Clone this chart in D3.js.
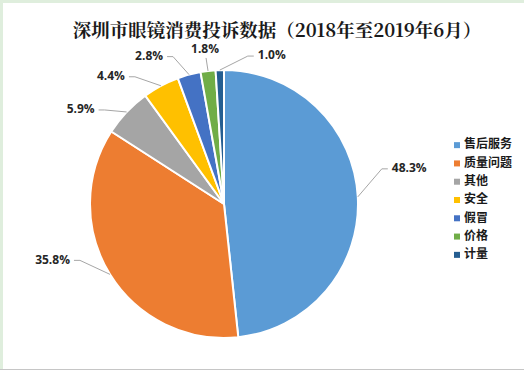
<!DOCTYPE html>
<html>
<head>
<meta charset="utf-8">
<script src="https://cdn.jsdelivr.net/npm/d3@7"></script>
<style>
	body { margin: 0; background: white; }
	svg { display: block; }
</style>
</head>
<body>
<script>
// 深圳市眼镜消费投诉数据 pie

var categories = ['售后服务', '质量问题', '其他', '安全', '假冒', '价格', '计量']
var values = [48.3, 35.8, 5.9, 4.4, 2.8, 1.8, 1.0]
var labels = ['48.3%', '35.8%', '5.9%', '4.4%', '2.8%', '1.8%', '1.0%']

var colors = ['#5B9BD5', '#ED7D31', '#A5A5A5', '#FFC000', '#4472C4', '#70AD47', '#255E91']

// where each label sits relative to its rim point (dx, dy, anchor)
var labelOffsets = [
	[34, -28, 'start'],
	[-40, -14, 'end'],
	[-32, -2, 'end'],
	[-36, -9, 'end'],
	[-26, -18, 'end'],
	[-3, -21, 'middle'],
	[38, -14, 'start']
]

var width = 524,
	height = 372

var svg = d3.select('body').append('svg')
	.attr('width', width)
	.attr('height', height)

// frame
svg.append('rect')
	.attr('width', width)
	.attr('height', height)
	.attr('fill', 'white')
svg.append('rect')
	.attr('x', 0).attr('y', 0)
	.attr('width', width).attr('height', 3)
	.attr('fill', '#dfeedd')
svg.append('rect')
	.attr('x', 0).attr('y', 0)
	.attr('width', 3).attr('height', 370)
	.attr('fill', '#dfeedd')
svg.append('line')
	.attr('x1', 0).attr('x2', width)
	.attr('y1', 369.5).attr('y2', 369.5)
	.attr('stroke', '#c6c6c6')

svg.append('text')
	.attr('x', 277)
	.attr('y', 32)
	.attr('text-anchor', 'middle')
	.attr('dominant-baseline', 'middle')
	.style('font-family', '"Noto Serif CJK SC", "Noto Sans CJK SC", sans-serif')
	.style('font-weight', 'bold')
	.style('font-size', '18.5px')
	.attr('fill', '#1a1a1a')
	.text('深圳市眼镜消费投诉数据（2018年至2019年6月）')

var cx = 224, cy = 204, r = 134

var color = d3.scaleOrdinal()
	.domain(categories)
	.range(colors)

var pie = d3.pie()
	.sort(null)
	.value(d => d.value)

var data = categories.map((c, i) => ({ name: c, value: values[i], label: labels[i] }))
var arcs = pie(data)

var arc = d3.arc()
	.innerRadius(0)
	.outerRadius(r)

var g = svg.append('g')
	.attr('transform', 'translate(' + cx + ',' + cy + ')')

g.selectAll('path')
	.data(arcs)
	.enter()
	.append('path')
		.attr('d', arc)
		.attr('fill', d => color(d.data.name))
		.attr('stroke', 'white')
		.attr('stroke-width', 2)

function rim(d) {
	var a = (d.startAngle + d.endAngle) / 2
	return [r * Math.sin(a), -r * Math.cos(a)]
}

// leader lines + labels
arcs.forEach(function(d, i) {
	var p = rim(d)
	var off = labelOffsets[i]
	var lx = p[0] + off[0], ly = p[1] + off[1]
	var pts
	if (off[2] == 'end') {
		pts = [[lx + 4, ly], [lx + 10, ly], p]
	} else if (off[2] == 'start') {
		pts = [[lx - 4, ly], [lx - 10, ly], p]
	} else {
		pts = [[lx + 1, ly + 8], p]
	}
	g.append('path')
		.attr('d', d3.line()(pts))
		.attr('fill', 'none')
		.attr('stroke', '#a6a6a6')
		.attr('stroke-width', 1)

	g.append('text')
		.attr('x', lx)
		.attr('y', ly)
		.attr('text-anchor', off[2])
		.attr('dominant-baseline', 'middle')
		.style('font-family', '"Open Sans", "Liberation Sans", sans-serif')
		.style('font-weight', 'bold')
		.style('font-size', '12px')
		.attr('fill', '#262626')
		.text(d.data.label)
})

// legend
var legendY = d3.scaleBand()
	.domain(categories)
	.range([136, 264])

var legend = svg.selectAll('.legend')
	.data(categories)
	.enter()
	.append('g')
		.attr('class', 'legend')
		.attr('transform', d => 'translate(454,' + (legendY(d) + legendY.bandwidth() / 2) + ')')

legend.append('rect')
	.attr('x', 0)
	.attr('y', -3)
	.attr('width', 6)
	.attr('height', 6)
	.attr('fill', d => color(d))

legend.append('text')
	.attr('x', 10)
	.attr('y', 0)
	.attr('dominant-baseline', 'middle')
	.style('font-family', '"Noto Sans CJK SC", sans-serif')
	.style('font-weight', 'bold')
	.style('font-size', '12px')
	.attr('fill', '#1a1a1a')
	.text(d => d)
</script>
</body>
</html>
